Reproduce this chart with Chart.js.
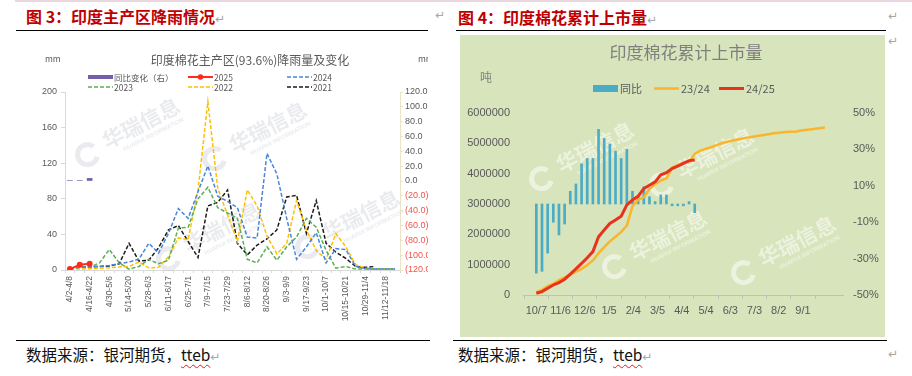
<!DOCTYPE html>
<html><head><meta charset="utf-8">
<script src="https://cdn.jsdelivr.net/npm/chart.js@4.4.1/dist/chart.umd.min.js"></script>
<style>
*{box-sizing:border-box;}
html,body{margin:0;padding:0;background:#fff;}
body{width:912px;height:376px;position:relative;overflow:hidden;font-family:"Noto Sans CJK SC","Liberation Sans",sans-serif;}
.a{position:absolute;white-space:nowrap;}
.ttl{color:#c00000;font-weight:700;font-size:16px;line-height:20px;}
.ret{color:#a6a6a6;font-weight:400;font-size:12px;font-family:"DejaVu Sans",sans-serif;}
.hl{position:absolute;height:1px;background:#000;}
.foot{font-size:15.5px;line-height:20px;color:#111;}
.wavy{text-decoration:underline wavy #e02020;text-decoration-thickness:1px;text-underline-offset:3px;}
#p1{position:absolute;left:16px;top:35px;width:412px;height:300px;overflow:hidden;background:#fff;}
#p2{position:absolute;left:460px;top:35px;width:425px;height:302px;overflow:hidden;background:#d8e4bc;}
.lg{font-size:8.5px;color:#595959;line-height:10px;}
.lg2{font-size:11px;color:#595959;line-height:13px;}
canvas{position:absolute;left:0;top:0;}
</style></head><body>
<div class="a" style="left:15px;top:0;width:897px;height:2px;background:#ead7de;"></div>
<div class="a ttl" style="left:26px;top:6px;">图 3：印度主产区降雨情况<span class="ret">↵</span></div>
<div class="a ret" style="left:435px;top:8px;">↵</div>
<div class="hl" style="left:16px;top:30px;width:412px;"></div>
<div class="a ttl" style="left:458px;top:7px;">图 4：印度棉花累计上市量<span class="ret">↵</span></div>
<div class="a ret" style="left:888px;top:9px;">↵</div>
<div class="a ret" style="left:888px;top:34px;">↵</div>
<div class="hl" style="left:456px;top:30px;width:430px;"></div>

<div id="p1">
  <canvas id="c1" width="412" height="300"></canvas>
  <div class="a" style="left:234px;top:17px;transform:translateX(-50%);font-size:12px;line-height:16px;color:#595959;">印度棉花主产区(93.6%)降雨量及变化</div>
  <div class="a lg" style="left:29px;top:18px;">mm</div>
  <div class="a lg" style="left:402px;top:18px;">mm</div>
  <div class="a lg" style="left:72px;top:37px;"><svg width="26" height="10" style="vertical-align:top"><rect x="0" y="3" width="25" height="4" fill="#7460a8"/></svg>同比变化（右）</div>
  <div class="a lg" style="left:172px;top:37px;"><svg width="26" height="10" style="vertical-align:top"><line x1="0" y1="5" x2="25" y2="5" stroke="#ff2a1a" stroke-width="2"/><circle cx="12.5" cy="5" r="2.8" fill="#ff2a1a"/></svg>2025</div>
  <div class="a lg" style="left:271px;top:37px;"><svg width="26" height="10" style="vertical-align:top"><line x1="0" y1="5" x2="25" y2="5" stroke="#4a86d8" stroke-width="1.5" stroke-dasharray="4 2"/></svg>2024</div>
  <div class="a lg" style="left:72px;top:47px;"><svg width="26" height="10" style="vertical-align:top"><line x1="0" y1="5" x2="25" y2="5" stroke="#5aaf55" stroke-width="1.5" stroke-dasharray="4 2"/></svg>2023</div>
  <div class="a lg" style="left:172px;top:47px;"><svg width="26" height="10" style="vertical-align:top"><line x1="0" y1="5" x2="25" y2="5" stroke="#ffc000" stroke-width="1.5" stroke-dasharray="4 2"/></svg>2022</div>
  <div class="a lg" style="left:271px;top:47px;"><svg width="26" height="10" style="vertical-align:top"><line x1="0" y1="5" x2="25" y2="5" stroke="#1a1a1a" stroke-width="1.5" stroke-dasharray="4 2"/></svg>2021</div>
</div>

<div id="p2">
  <canvas id="c2" width="425" height="302"></canvas>
  <div class="a" style="left:226px;top:6px;transform:translateX(-50%);font-size:17px;line-height:22px;color:#7f7f7f;">印度棉花累计上市量</div>
  <div class="a" style="left:20px;top:34px;font-size:12px;line-height:16px;color:#7f7f7f;">吨</div>
  <div class="a lg2" style="left:133px;top:47px;"><svg width="27" height="13" style="vertical-align:top"><rect x="0" y="3" width="25" height="7" fill="#4bacc6"/></svg>同比</div>
  <div class="a lg2" style="left:194px;top:47px;"><svg width="27" height="13" style="vertical-align:top"><line x1="0" y1="6.5" x2="25" y2="6.5" stroke="#f9b62c" stroke-width="2.5"/></svg>23/24</div>
  <div class="a lg2" style="left:259px;top:47px;"><svg width="27" height="13" style="vertical-align:top"><line x1="0" y1="6.5" x2="25" y2="6.5" stroke="#e8321e" stroke-width="3"/></svg>24/25</div>
</div>

<div class="hl" style="left:16px;top:340px;width:414px;"></div>
<div class="hl" style="left:453px;top:340px;width:434px;"></div>
<div class="a foot" style="left:26px;top:344px;">数据来源：银河期货，<span class="wavy">tteb</span><span class="ret">↵</span></div>
<div class="a foot" style="left:458px;top:344px;">数据来源：银河期货，<span class="wavy">tteb</span><span class="ret">↵</span></div>
<div class="a ret" style="left:888px;top:347px;">↵</div>

<script>
// ---------- Figure 3 data: weekly rainfall (mm) ----------
const weekLabels = ['4/2-4/8','4/9-4/15','4/16-4/22','4/23-4/29','4/30-5/6','5/7-5/13','5/14-5/20','5/21-5/27','5/28-6/3','6/4-6/10','6/11-6/17','6/18-6/24','6/25-7/1','7/2-7/8','7/9-7/15','7/16-7/22','7/23-7/29','7/30-8/5','8/6-8/12','8/13-8/19','8/20-8/26','8/27-9/2','9/3-9/9','9/10-9/16','9/17-9/23','9/24-9/30','10/1-10/7','10/8-10/14','10/15-10/21','10/22-10/28','10/29-11/4','11/5-11/11','11/12-11/18','11/19-11/25'];
const rainYoY  = [0.7, 0.7, 3.5];
const rain2025 = [1, 6, 7];
const rain2024 = [2,3,4,4,5,7,9,12,30,19,41,69,58,88,117,83,77,70,37,36,131,108,58,12,26,42,8,24,23,4,1.5,1,1,1];
const rain2023 = [2,3,3,8,23,8,1,4,12,7,11,47,48,80,93,70,64,58,12,8,26,11,26,37,58,48,22,2,4,1,1,1,1,1];
const rain2022 = [1,1,1.5,2,2.5,3.5,4,9,2.5,3,15,36,34,90,189,92,62,32,90,72,38,18,30,78,45,22,12,41,26,6,2,1,1,1];
const rain2021 = [1,3,3.5,4,4.5,7,30,10,11,25,45,50,32,14,72,76,90,30,17,28,35,45,82,84,41,78,30,20,13,4,3,4,null,null];

// ---------- Figure 4 data: cumulative arrivals (t) ----------
const arrivalWeeks = ['10/7','10/14','10/21','10/28','11/4','11/11','11/18','11/25','12/2','12/9','12/16','12/23','12/30','1/6','1/13','1/20','1/27','2/3','2/10','2/17','2/24','3/2','3/9','3/16','3/23','3/30','4/6','4/13','4/20','4/27','5/4','5/11','5/18','5/25','6/1','6/8','6/15','6/22','6/29','7/6','7/13','7/20','7/27','8/3','8/10','8/17','8/24','8/31','9/7','9/14','9/21','9/28'];
const arrivals2425 = [56000,110000,220000,330000,410000,520000,690000,860000,1040000,1230000,1430000,1920000,2140000,2360000,2470000,2600000,2970000,3130000,3260000,3510000,3620000,3730000,3960000,4030000,4170000,4250000,4340000,4430000,4450000];
const arrivals2324 = [90000,170000,290000,370000,490000,580000,660000,770000,860000,990000,1140000,1380000,1580000,1770000,1920000,2080000,2290000,2930000,3140000,3220000,3490000,3660000,3770000,3840000,4200000,4280000,4360000,4380000,4650000,4760000,4820000,4880000,4950000,5020000,5060000,5100000,5140000,5180000,5210000,5240000,5270000,5300000,5330000,5350000,5370000,5380000,5390000,5430000,5450000,5470000,5500000,5520000];
const yoyPct = [-38,-37,-27,-10,-17,-11,7,11,22,25,25,41,36,33,29,25,30,7,4,9.5,4,1.3,5,5,-1,-1,-1,1.3,-4.8];
const xTickLabels = ['10/7','11/6','12/6','1/5','2/4','3/5','4/4','5/4','6/3','7/3','8/2','9/1'];

Chart.defaults.font.family = '"Liberation Sans","Noto Sans CJK SC",sans-serif';
Chart.defaults.color = '#595959';

const wmPlugin = {
  id: 'wm',
  beforeDatasetsDraw(chart, args, opts) {
    const ctx = chart.ctx;
    (opts.marks || []).forEach(m => {
      ctx.save();
      ctx.translate(m[0], m[1]);
      ctx.rotate(-0.47);
      ctx.fillStyle = opts.color;
      ctx.strokeStyle = opts.color;
      ctx.textAlign = 'center';
      ctx.textBaseline = 'middle';
      ctx.font = 'bold 21px "Noto Sans CJK SC"';
      ctx.fillText('华瑞信息', 0, 0);
      ctx.font = 'bold 6px "Liberation Sans"';
      ctx.fillText('HUARUI INFORMATION', 6, 16);
      ctx.lineWidth = 5;
      ctx.beginPath();
      ctx.arc(-62, 4, 10, 0.7, Math.PI * 1.85);
      ctx.stroke();
      ctx.restore();
    });
  }
};

function dashed(label, data, color) {
  return { label, data, borderColor: color, backgroundColor: color, borderDash: [4, 2], borderWidth: 1.5,
           pointRadius: 0, tension: 0, yAxisID: 'y', spanGaps: false };
}

new Chart(document.getElementById('c1'), {
  type: 'line',
  plugins: [wmPlugin],
  data: {
    labels: weekLabels,
    datasets: [
      { type: 'bar', label: '同比变化（右）', data: rainYoY, yAxisID: 'y1', backgroundColor: '#7460a8', barThickness: 5, order: 10 },
      Object.assign(dashed('2021', rain2021, '#1a1a1a'), { order: 6 }),
      Object.assign(dashed('2022', rain2022, '#ffc000'), { order: 5 }),
      Object.assign(dashed('2023', rain2023, '#5aaf55'), { order: 4 }),
      Object.assign(dashed('2024', rain2024, '#4a86d8'), { order: 3 }),
      { label: '2025', data: rain2025, borderColor: '#ff2a1a', backgroundColor: '#ff2a1a', borderWidth: 2,
        pointRadius: 3, pointBorderWidth: 0, yAxisID: 'y', order: 1 }
    ]
  },
  options: {
    responsive: false, animation: false,
    layout: { padding: { top: 57, left: 0, right: 0, bottom: 0 } },
    plugins: {
      legend: { display: false }, tooltip: { enabled: false },
      wm: { color: 'rgba(200,202,210,0.38)', marks: [[125, 88], [252, 92], [206, 192], [345, 180]] }
    },
    scales: {
      x: {
        offset: true,
        grid: { display: true, drawOnChartArea: false, drawTicks: true, tickLength: 3, color: '#d9d9d9' },
        border: { color: '#d9d9d9' },
        ticks: { autoSkip: false, minRotation: 90, maxRotation: 90, padding: 3, font: { size: 8.5 }, color: '#595959',
                 callback: (v, i) => (i % 2 === 0 ? weekLabels[i] : '') },
        afterFit: s => { s.height = 65; }
      },
      y: {
        position: 'left', min: 0, max: 200,
        ticks: { stepSize: 40, padding: 4, font: { size: 9 }, color: '#595959' },
        grid: { drawOnChartArea: false, tickLength: 4, color: '#d9d9d9' },
        border: { color: '#d9d9d9' },
        afterFit: s => { s.width = 49; }
      },
      y1: {
        position: 'right', min: -120, max: 120,
        ticks: { stepSize: 20, padding: 2, font: { size: 9 },
                 color: c => (c.tick && c.tick.value < 0 ? '#f0544a' : '#595959'),
                 callback: v => (v < 0 ? '(' + Math.abs(v).toFixed(1) + ')' : v.toFixed(1)) },
        grid: { drawOnChartArea: false, tickLength: 3, color: '#ebe5c8' },
        border: { color: '#ebe5c8' },
        afterFit: s => { s.width = 28; }
      }
    }
  }
});

function dayOffset(md) {
  const [m, d] = md.split('/').map(Number);
  const y = m >= 10 ? 2023 : 2024;
  return Math.round((Date.UTC(y, m - 1, d) - Date.UTC(2023, 9, 7)) / 86400000);
}
const toXY = (arr) => arr.map((v, i) => ({ x: dayOffset(arrivalWeeks[i]), y: v }));

new Chart(document.getElementById('c2'), {
  type: 'line',
  plugins: [wmPlugin],
  data: {
    datasets: [
      { type: 'bar', label: '同比', data: toXY(yoyPct), yAxisID: 'y1', backgroundColor: '#4bacc6', barThickness: 2, order: 3 },
      { label: '23/24', data: toXY(arrivals2324), yAxisID: 'y', borderColor: '#f9b62c', borderWidth: 2.5, pointRadius: 0, order: 2 },
      { label: '24/25', data: toXY(arrivals2425), yAxisID: 'y', borderColor: '#e8321e', borderWidth: 3, pointRadius: 0, order: 1 }
    ]
  },
  options: {
    responsive: false, animation: false,
    layout: { padding: { top: 78, left: 0, right: 0, bottom: 0 } },
    plugins: {
      legend: { display: false }, tooltip: { enabled: false },
      wm: { color: 'rgba(255,255,255,0.5)', marks: [[135, 112], [208, 200], [255, 118], [337, 206]] }
    },
    scales: {
      x: {
        type: 'linear', min: 0, max: 363,
        afterBuildTicks: s => { s.ticks = xTickLabels.map((t, i) => ({ value: i * 30 })); },
        ticks: { autoSkip: false, minRotation: 0, maxRotation: 0, padding: 5, font: { size: 11 }, color: '#595959',
                 callback: v => xTickLabels[Math.round(v / 30)] },
        grid: { drawOnChartArea: false, tickLength: 4, color: '#bfbfbf' },
        border: { color: '#bfbfbf' },
        afterFit: s => { s.height = 42; }
      },
      y: {
        position: 'left', min: 0, max: 6000000,
        ticks: { stepSize: 1000000, padding: 13, font: { size: 11 }, color: '#595959', callback: v => String(v) },
        grid: { display: false, drawTicks: false },
        border: { display: false },
        afterFit: s => { s.width = 63; }
      },
      y1: {
        position: 'right', min: -50, max: 50,
        ticks: { stepSize: 20, padding: 10, font: { size: 11 }, color: '#595959', callback: v => v + '%' },
        grid: { display: false, drawTicks: false },
        border: { display: false },
        afterFit: s => { s.width = 42; }
      }
    }
  }
});
</script>
</body></html>
